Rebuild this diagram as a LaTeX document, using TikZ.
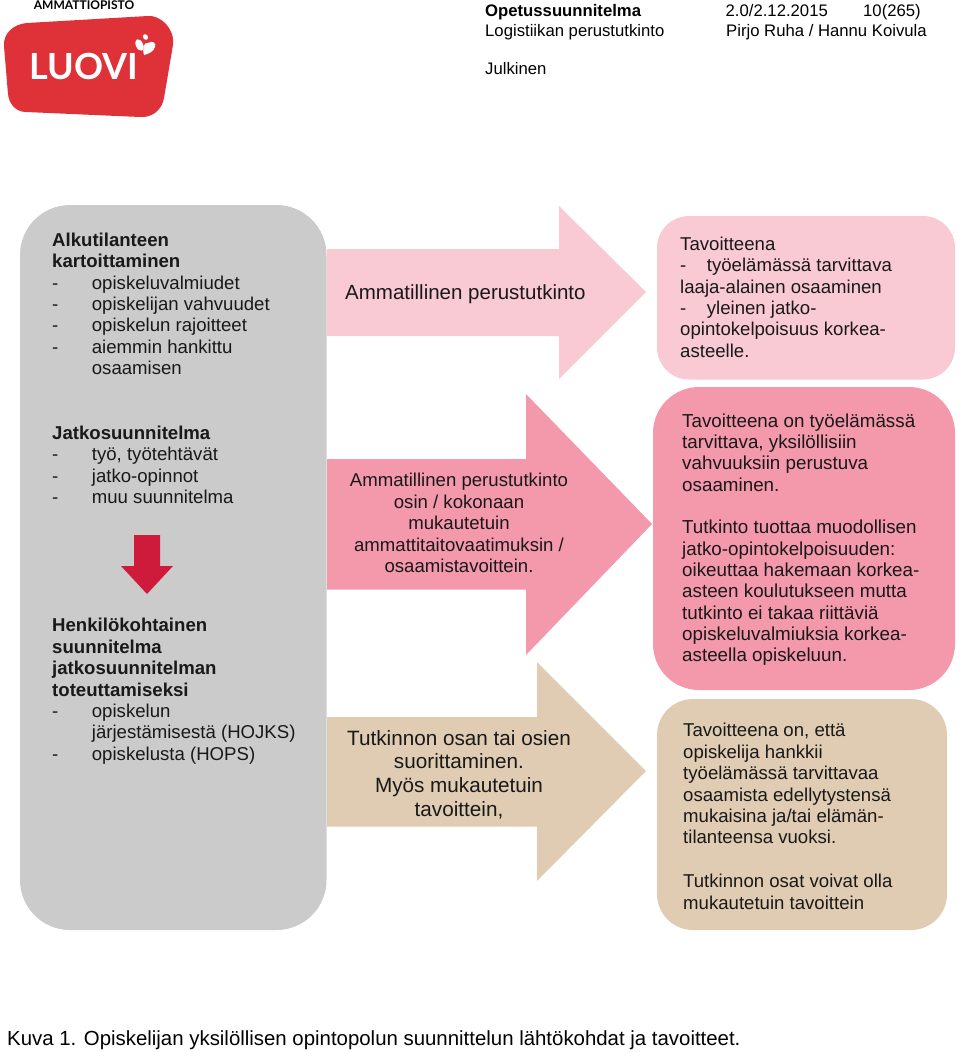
\documentclass[tikz,border=0pt]{standalone}
\usepackage{fontspec}
\setmainfont{Liberation Sans}
\newfontfamily\logofont{Lato}
\definecolor{cgray}{HTML}{CBCBCB}
\definecolor{clight}{HTML}{F9CAD3}
\definecolor{cmid}{HTML}{F498AB}
\definecolor{cbeige}{HTML}{DFCCB2}
\definecolor{cred}{HTML}{CE1B3B}
\definecolor{clogo}{HTML}{DE3138}
\tikzset{
  txt/.style={inner sep=0pt,anchor=north west,align=left,font=\fontsize{18.6}{21.45}\selectfont,text=black!90},
  txtb/.style={txt,font=\fontsize{18.8}{21.3}\selectfont},
  ctr/.style={inner sep=0pt,anchor=north,align=center,font=\fontsize{18.6}{21.5}\selectfont,text=black!90},
  big/.style={inner sep=0pt,anchor=north,align=center,font=\fontsize{20.7}{23.7}\selectfont,text=black!90},
  head/.style={inner sep=0pt,anchor=north west,font=\fontsize{16.7}{20}\selectfont,text=black}
}
\newcommand{\dashitem}[1]{\makebox[39.7pt][l]{-}#1}
\newcommand{\indentitem}[1]{\hspace*{39.7pt}#1}
\newcommand{\shortdash}[1]{\makebox[26.7pt][l]{-}#1}
\begin{document}
\begin{tikzpicture}[x=1pt,y=-1pt]
\useasboundingbox (0,0) rectangle (960,1052);
% left panel
\fill[cgray,rounded corners=50] (20,205) rectangle (326.5,930);
% arrows
\fill[clight] (327,249) -- (559,249) -- (559,206) -- (646,292) -- (559,379) -- (559,336) -- (327,336) -- cycle;
\fill[cmid] (327,459) -- (526,459) -- (526,394) -- (652,524) -- (526,655) -- (526,589.5) -- (327,589.5) -- cycle;
\fill[cbeige] (327,717) -- (537,717) -- (537,662) -- (646,771) -- (537,881) -- (537,826.5) -- (327,826.5) -- cycle;
% right boxes
\fill[clight,rounded corners=32] (657,216) rectangle (955,379.5);
\fill[cmid,rounded corners=46] (653,387) rectangle (955,690);
\fill[cbeige,rounded corners=36] (657,699) rectangle (947,930);
% red arrow
\fill[cred] (134,535) -- (160,535) -- (160,566) -- (173,566) -- (147,594) -- (121,566) -- (134,566) -- cycle;
% logo
\fill[clogo] (27,23) -- (148,16) .. controls (160,15) and (175,28) .. (173,45) -- (164,98) .. controls (162,110) and (152,118) .. (140,117) -- (26,112) .. controls (16,112) and (9,104) .. (8,94) -- (4,46) .. controls (3,33) and (14,24) .. (27,23) -- cycle;
\node[inner sep=0pt,font=\logofont\bfseries\fontsize{12}{13}\selectfont,text=black] (lt) at (84,5.5) {AMMATTIOPISTO};
\node[inner sep=0pt,font=\logofont\bfseries\fontsize{36}{36}\selectfont,text=white] (lv) at (84,66.5) {LUOVI};
\fill[white,rotate around={25:(139.5,45)}] (139.5,45) ellipse (3.6 and 6.2);
\fill[white,rotate around={30:(145.5,37)}] (145.5,37) ellipse (2.4 and 3);
\fill[white] (144,55) .. controls (142,48) and (144,42) .. (148,43) .. controls (152,40) and (157,43) .. (155,47) .. controls (154,51) and (149,54) .. (144,55) -- cycle;
% header
\node[head,font=\bfseries\fontsize{16.7}{20}\selectfont] (h1) at (485,4) {Opetussuunnitelma};
\node[head] (h2) at (485,24) {Logistiikan perustutkinto};
\node[head] (h3) at (725.5,4) {2.0/2.12.2015};
\node[head] (h3b) at (863,4) {10(265)};
\node[head] (h4) at (726,24) {Pirjo Ruha / Hannu Koivula};
\node[head] (h5) at (485,62.5) {Julkinen};
% left texts
\node[txt] (l1) at (52,232.5) {\textbf{Alkutilanteen}\\\textbf{kartoittaminen}\\\dashitem{opiskeluvalmiudet}\\\dashitem{opiskelijan vahvuudet}\\\dashitem{opiskelun rajoitteet}\\\dashitem{aiemmin hankittu}\\\indentitem{osaamisen}};
\node[txt] (l2) at (52,425.5) {\textbf{Jatkosuunnitelma}\\\dashitem{työ, työtehtävät}\\\dashitem{jatko-opinnot}\\\dashitem{muu suunnitelma}};
\node[txt] (l3) at (52,618) {\textbf{Henkilökohtainen}\\\textbf{suunnitelma}\\\textbf{jatkosuunnitelman}\\\textbf{toteuttamiseksi}\\\dashitem{opiskelun}\\\indentitem{järjestämisestä (HOJKS)}\\\dashitem{opiskelusta (HOPS)}};
% arrow texts
\node[inner sep=0pt,anchor=north west,font=\fontsize{20.5}{23.7}\selectfont,text=black!90] (a1) at (345,284) {Ammatillinen perustutkinto};
\node[ctr] (a2) at (459,473) {Ammatillinen perustutkinto\\osin / kokonaan\\mukautetuin\\ammattitaitovaatimuksin /\\osaamistavoittein.};
\node[big] (a3) at (459,730) {Tutkinnon osan tai osien\\suorittaminen.\\Myös mukautetuin\\tavoittein,};
% right texts
\node[txt] (r1) at (680,236.5) {Tavoitteena\\\shortdash{työelämässä tarvittava}\\laaja-alainen osaaminen\\\shortdash{yleinen jatko-}\\opintokelpoisuus korkea-\\asteelle.};
\node[txtb] (r2) at (682,413.5) {Tavoitteena on työelämässä\\tarvittava, yksilöllisiin\\vahvuuksiin perustuva\\osaaminen.};
\node[txtb] (r3) at (682,520) {Tutkinto tuottaa muodollisen\\jatko-opintokelpoisuuden:\\oikeuttaa hakemaan korkea-\\asteen koulutukseen mutta\\tutkinto ei takaa riittäviä\\opiskeluvalmiuksia korkea-\\asteella opiskeluun.};
\node[txt] (r4) at (683,723) {Tavoitteena on, että\\opiskelija hankkii\\työelämässä tarvittavaa\\osaamista edellytystensä\\mukaisina ja/tai elämän-\\tilanteensa vuoksi.};
\node[txt] (r5) at (683,874) {Tutkinnon osat voivat olla\\mukautetuin tavoittein};
% caption
\node[inner sep=0pt,anchor=north west,font=\fontsize{20.4}{24}\selectfont,text=black] (cap) at (7,1031) {Kuva 1. Opiskelijan yksilöllisen opintopolun suunnittelun lähtökohdat ja tavoitteet.};
\end{tikzpicture}
\end{document}
